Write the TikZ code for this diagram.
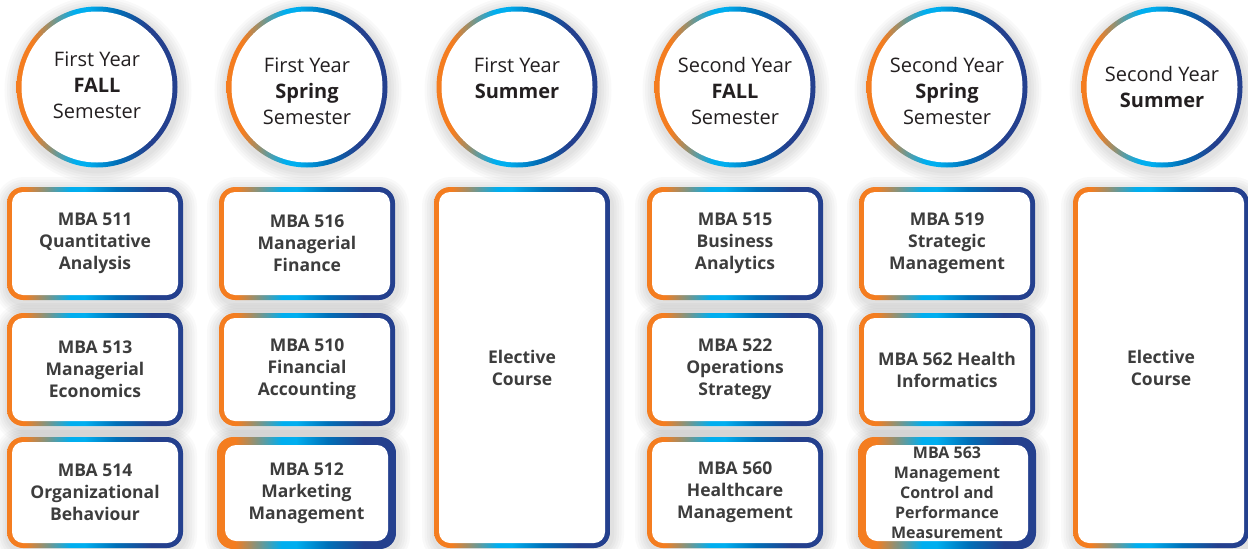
\documentclass[tikz,border=0pt]{standalone}
\usepackage{fontspec}
\setmainfont{Open Sans}
\definecolor{gradorange}{HTML}{F47D20}
\definecolor{gradcyan}{HTML}{00AEEF}
\definecolor{gradblue}{HTML}{0070B8}
\definecolor{gradnavy}{HTML}{24408E}
\definecolor{coursetext}{HTML}{3D3D3D}
\definecolor{yeartext}{HTML}{231F20}
\pgfdeclarehorizontalshading{ringgrad}{100bp}{color(0bp)=(gradorange); color(30bp)=(gradorange); color(43bp)=(gradcyan); color(47bp)=(gradcyan); color(56bp)=(gradblue); color(66bp)=(gradnavy); color(100bp)=(gradnavy)}
\tikzset{
  halo/.style={preaction={draw=black, draw opacity=0.022, line width=#1, transform canvas={xshift=1pt,yshift=-3pt}}},
  softshadow/.style={halo=26pt, halo=21pt, halo=16pt, halo=11pt, halo=6pt},
  ring/.style={circle, minimum size=161pt, inner sep=0pt, softshadow, shade, shading=ringgrad,
    path picture={\fill[white] (path picture bounding box.center) circle (75.5pt);}},
  yearlabel/.style={align=center, text=yeartext, font=\fontsize{20}{26}\selectfont},
  course/.style={rounded corners=16pt, minimum width=176pt, minimum height=113pt, inner sep=0pt,
    softshadow, shade, shading=ringgrad,
    path picture={\fill[white,rounded corners=11pt] ([shift={(#1,#1)}]path picture bounding box.south west) rectangle ([shift={(-#1,-#1)}]path picture bounding box.north east);},
    align=center, text=coursetext, font=\fontsize{17.5}{22}\selectfont\bfseries},
  course/.default=5pt,
}
\begin{document}
\begin{tikzpicture}[x=1pt,y=-1pt]
        \useasboundingbox[fill=white] (0,0) rectangle (1248,549);
        %% Year circles
        \node[ring] (fall1)   at (97,87)   {};
        \node[ring] (spring1) at (307,87)  {};
        \node[ring] (summer1) at (517,87)  {};
        \node[ring] (fall2)   at (735,87)  {};
        \node[ring] (spring2) at (947,87)  {};
        \node[ring] (summer2) at (1162,87) {};
        \node[yearlabel] (fall1txt)   at ([yshift=2pt]fall1.center)    {First Year\\\textbf{FALL}\\Semester};
        \node[yearlabel] (spring1txt) at ([yshift=-4pt]spring1.center) {First Year\\\textbf{Spring}\\Semester};
        \node[yearlabel] (summer1txt) at ([yshift=9pt]summer1.center)  {First Year\\\textbf{Summer}};
        \node[yearlabel] (fall2txt)   at ([yshift=-4pt]fall2.center)   {Second Year\\\textbf{FALL}\\Semester};
        \node[yearlabel] (spring2txt) at ([yshift=-4pt]spring2.center) {Second Year\\\textbf{Spring}\\Semester};
        \node[yearlabel] (summer2txt) at (summer2.center)              {Second Year\\\textbf{Summer}};
        %% First year, fall
        \node[course] (mba511) at (95,243.5) {MBA 511\\Quantitative\\Analysis};
        \node[course] (mba513) at (95,369.5) {MBA 513\\Managerial\\Economics};
        \node[course,minimum height=111pt] (mba514) at (95,492.5) {MBA 514\\Organizational\\Behaviour};
        %% First year, spring
        \node[course] (mba516) at (307,243.5) {MBA 516\\Managerial\\Finance};
        \node[course] (mba510) at (307,369.5) {MBA 510\\Financial\\Accounting};
        \node[course=8pt,minimum width=179pt,minimum height=112pt] (mba512) at (306.5,493) {MBA 512\\Marketing\\Management};
        %% First year, summer
        \node[course,minimum height=361pt] (elective1) at (522,367.5) {Elective\\Course};
        %% Second year, fall
        \node[course] (mba515) at (735,243.5) {MBA 515\\Business\\Analytics};
        \node[course] (mba522) at (735,369.5) {MBA 522\\Operations\\Strategy};
        \node[course,minimum height=111pt] (mba560) at (735,492.5) {MBA 560\\Healthcare\\Management};
        %% Second year, spring
        \node[course] (mba519) at (947,243.5) {MBA 519\\Strategic\\Management};
        \node[course] (mba562) at (947,369.5) {MBA 562 Health\\Informatics};
        \node[course=8pt,minimum width=178pt,minimum height=112pt,font=\fontsize{16}{20}\selectfont\bfseries] (mba563) at (947,493) {MBA 563\\Management\\Control and\\Performance\\Measurement};
        %% Second year, summer
        \node[course,minimum height=361pt] (elective2) at (1161,367.5) {Elective\\Course};
    \end{tikzpicture}
\end{document}
